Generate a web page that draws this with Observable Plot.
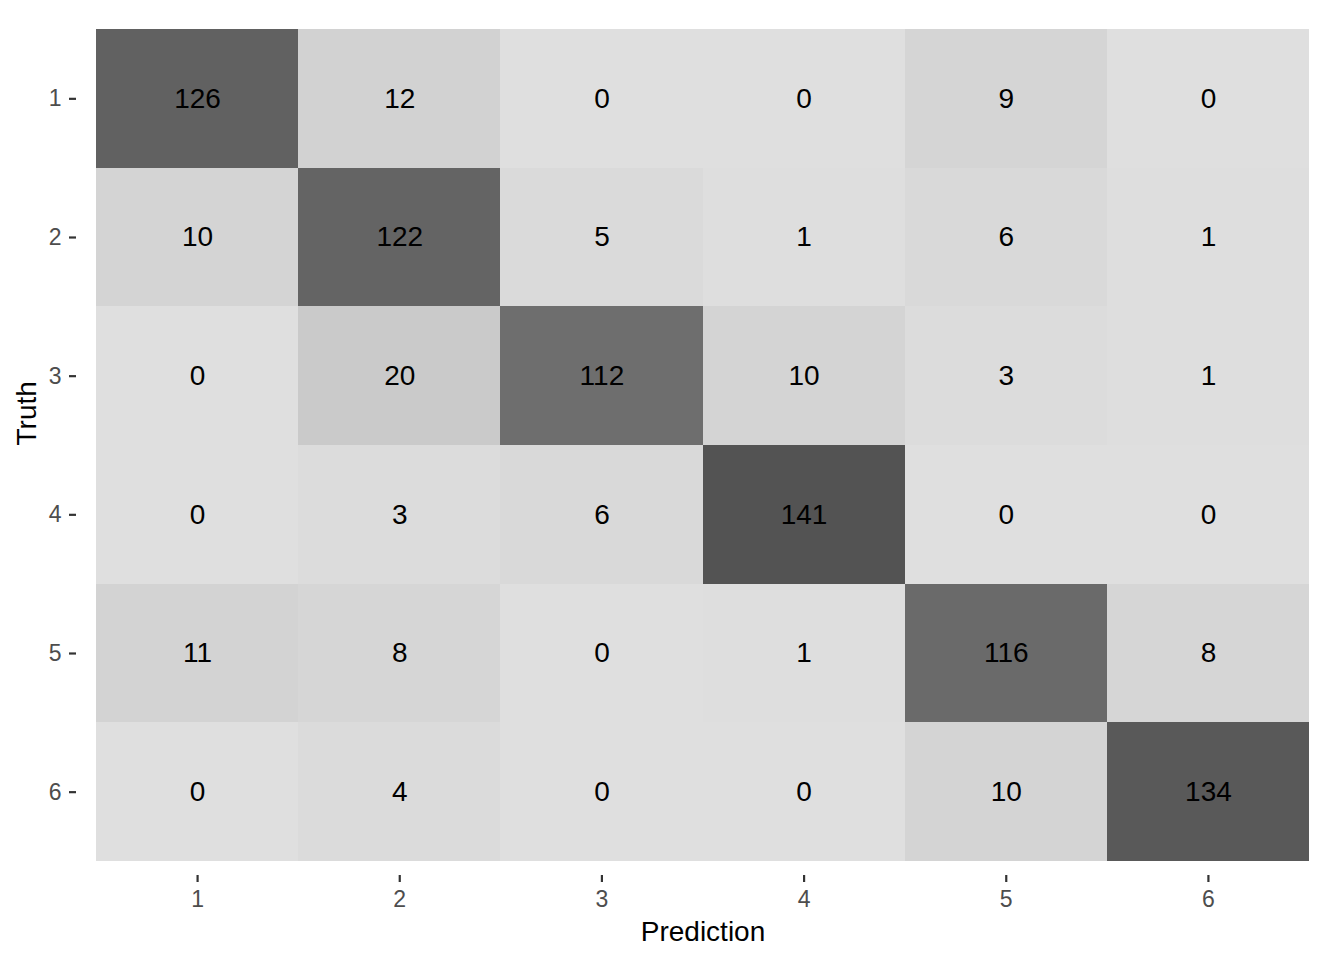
<!DOCTYPE html>
<html>
<head>
<meta charset="utf-8">
<script src="https://cdn.jsdelivr.net/npm/d3@7"></script>
<script src="https://cdn.jsdelivr.net/npm/@observablehq/plot@0.6"></script>
<style>
  html, body { margin: 0; padding: 0; background: #ffffff; }
  svg { display: block; }
</style>
</head>
<body>
<div id="chart"></div>
<script>
// Confusion matrix data
const predictionLevels = ["1", "2", "3", "4", "5", "6"];
const truthLevels = ["1", "2", "3", "4", "5", "6"];
// rows = Truth, columns = Prediction
const truth1 = [126, 12, 0, 0, 9, 0];
const truth2 = [10, 122, 5, 1, 6, 1];
const truth3 = [0, 20, 112, 10, 3, 1];
const truth4 = [0, 3, 6, 141, 0, 0];
const truth5 = [11, 8, 0, 1, 116, 8];
const truth6 = [0, 4, 0, 0, 10, 134];
const xTitle = "Prediction";
const yTitle = "Truth";

const rows = [truth1, truth2, truth3, truth4, truth5, truth6];
const table = [];
rows.forEach((row, i) => {
  row.forEach((v, j) => {
    table.push({Truth: truthLevels[i], Prediction: predictionLevels[j], Freq: v});
  });
});

const font = "'Liberation Sans', Arial, Helvetica, sans-serif";

const chart = Plot.plot({
  width: 1344,
  height: 960,
  marginLeft: 76,
  marginRight: 15,
  marginTop: 15,
  marginBottom: 85,
  style: {fontFamily: font, fontSize: "23px", background: "#ffffff", color: "#000"},
  x: {type: "band", domain: predictionLevels, padding: 0, round: false, insetLeft: 20, insetRight: 20},
  y: {type: "band", domain: truthLevels, padding: 0, round: false, insetTop: 14, insetBottom: 14},
  color: {type: "linear", domain: [0, 141], range: ["#dfdfdf", "#535353"], interpolate: "lab"},
  marks: [
    Plot.cell(table, {x: "Prediction", y: "Truth", fill: "Freq", inset: 0, shapeRendering: "crispEdges"}),
    Plot.text(table, {x: "Prediction", y: "Truth", text: d => String(d.Freq), fontSize: 28, fill: "#000"}),
    Plot.axisX({anchor: "bottom", tickSize: 7, tickPadding: 8, strokeWidth: 2.2, stroke: "#333333", fill: "#4d4d4d", fontSize: 23, label: null}),
    Plot.axisY({anchor: "left", tickSize: 7, tickPadding: 8, strokeWidth: 2.2, stroke: "#333333", fill: "#4d4d4d", fontSize: 23, label: null}),
    Plot.text([xTitle], {frameAnchor: "bottom", dy: 57, text: d => d, fontSize: 28, fill: "#000", lineAnchor: "middle"}),
    Plot.text([yTitle], {frameAnchor: "left", dx: -49, text: d => d, fontSize: 28, fill: "#000", rotate: -90, lineAnchor: "middle"})
  ]
});
document.getElementById("chart").appendChild(chart);
</script>
</body>
</html>
